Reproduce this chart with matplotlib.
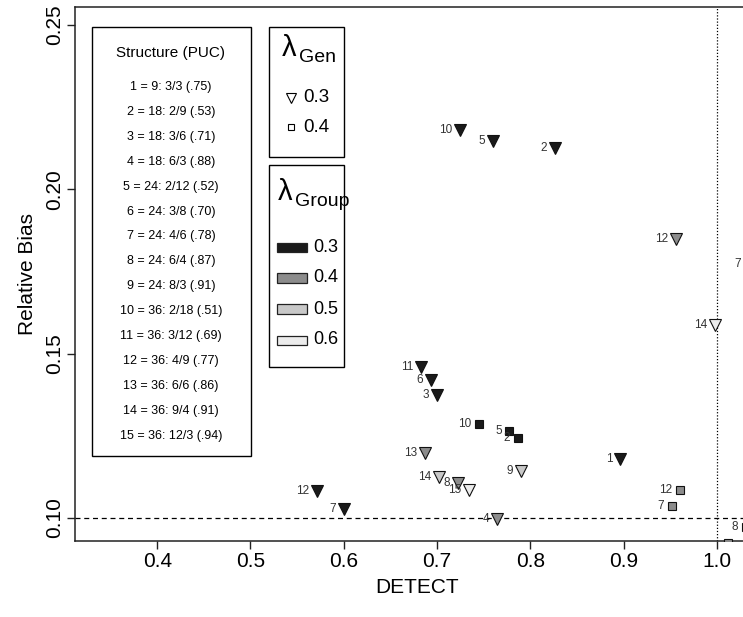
import matplotlib
matplotlib.use("Agg")
import matplotlib.pyplot as plt
from matplotlib.patches import Rectangle
from matplotlib.lines import Line2D

plt.rcParams['font.family'] = ['Liberation Sans', 'DejaVu Sans']

# lambda_Gen = 0.3 (triangles)
tri_x = [0.725, 0.760, 0.826, 0.956, 0.998, 1.034, 0.683, 0.693, 0.700,
         0.687, 0.702, 0.722, 0.734, 0.790, 0.571, 0.600, 0.764, 0.896]
tri_y = [0.2180, 0.2148, 0.2125, 0.1850, 0.1587, 0.1773, 0.1460, 0.1420, 0.1375,
         0.1197, 0.1126, 0.1106, 0.1085, 0.1143, 0.1083, 0.1028, 0.0996, 0.1179]
tri_lab = ['10', '5', '2', '12', '14', '7', '11', '6', '3',
           '13', '14', '8', '15', '9', '12', '7', '4', '1']
tri_grp = [0.3, 0.3, 0.3, 0.4, 0.6, 0.5, 0.3, 0.3, 0.3,
           0.4, 0.5, 0.4, 0.6, 0.5, 0.3, 0.3, 0.4, 0.3]

# lambda_Gen = 0.4 (squares)
sq_x = [0.745, 0.7774, 0.7867, 0.9603, 0.9514, 1.031, 1.0113]
sq_y = [0.1285, 0.1266, 0.1244, 0.1085, 0.1037, 0.0973, 0.0924]
sq_lab = ['10', '5', '2', '12', '7', '8', '']
sq_grp = [0.3, 0.3, 0.3, 0.4, 0.4, 0.5, 0.4]

structures = ['1 = 9: 3/3 (.75)', '2 = 18: 2/9 (.53)', '3 = 18: 3/6 (.71)',
              '4 = 18: 6/3 (.88)', '5 = 24: 2/12 (.52)', '6 = 24: 3/8 (.70)',
              '7 = 24: 4/6 (.78)', '8 = 24: 6/4 (.87)', '9 = 24: 8/3 (.91)',
              '10 = 36: 2/18 (.51)', '11 = 36: 3/12 (.69)', '12 = 36: 4/9 (.77)',
              '13 = 36: 6/6 (.86)', '14 = 36: 9/4 (.91)', '15 = 36: 12/3 (.94)']
gen_levels = ['0.3', '0.4']
group_levels = [0.3, 0.4, 0.5, 0.6]

fills = {0.3: '#1a1a1a', 0.4: '#8c8c8c', 0.5: '#c8c8c8', 0.6: '#ececec'}

W, H = 743, 617
fig = plt.figure(figsize=(W / 100, H / 100), dpi=100)


def fx(px):
    return px / W


def fy(py):
    return 1 - py / H


ax = fig.add_axes([fx(75), fy(541), (760 - 75) / W, (541 - 7) / H])
ax.set_xlim(0.3119, 1.0461)
ax.set_ylim(0.09302, 0.25548)

ax.axhline(0.10, color='black', lw=0.9, ls=(0, (4, 3)), zorder=1)
ax.axvline(1.0, color='black', lw=0.9, ls=(0, (1, 1.5)), zorder=1)

for x, y, lab, g in zip(tri_x, tri_y, tri_lab, tri_grp):
    ax.plot(x, y, marker='v', ms=9, mfc=fills[g], mec='#111111', mew=0.8,
            ls='none', zorder=3)
    ax.annotate(lab, (x, y), xytext=(-5.5, 0), textcoords='offset points',
                ha='right', va='center', fontsize=8.5, color='#333333', zorder=4)

for x, y, lab, g in zip(sq_x, sq_y, sq_lab, sq_grp):
    ax.plot(x, y, marker='s', ms=6, mfc=fills[g], mec='#111111', mew=0.8,
            ls='none', zorder=3)
    if lab:
        ax.annotate(lab, (x, y), xytext=(-5.5, 0), textcoords='offset points',
                    ha='right', va='center', fontsize=8.5, color='#333333', zorder=4)

ax.set_xticks([0.4, 0.5, 0.6, 0.7, 0.8, 0.9, 1.0])
ax.set_xticklabels(['0.4', '0.5', '0.6', '0.7', '0.8', '0.9', '1.0'])
ax.set_yticks([0.10, 0.15, 0.20, 0.25])
ax.set_yticklabels(['0.10', '0.15', '0.20', '0.25'], rotation=90, va='center')
ax.tick_params(direction='out', length=6, width=1, labelsize=15, pad=2,
               color='#222222')
for s in ax.spines.values():
    s.set_linewidth(1.1)
    s.set_color('#222222')

ax.set_xlabel('DETECT', fontsize=15, labelpad=5)
ax.set_ylabel('Relative Bias', fontsize=15, labelpad=6)

# Structure legend
fig.add_artist(Rectangle((fx(92), fy(456)), (251 - 92) / W, (456 - 27) / H,
                         transform=fig.transFigure, fill=False, lw=1, ec='black'))
fig.text(fx(171), fy(53), 'Structure (PUC)', ha='center', va='center', fontsize=11)
for i, s in enumerate(structures):
    fig.text(fx(171), fy(87 + i * 24.9), s, ha='center', va='center', fontsize=9)

# lambda Gen legend
fig.add_artist(Rectangle((fx(269), fy(157)), (344 - 269) / W, (157 - 27) / H,
                         transform=fig.transFigure, fill=False, lw=1, ec='black'))
fig.text(fx(282), fy(48), 'λ', ha='left', va='center', fontsize=21)
fig.text(fx(299), fy(57), 'Gen', ha='left', va='center', fontsize=14)
gen_markers = ['v', 's']
gen_sizes = [7, 4.5]
for i, (lev, m, ms) in enumerate(zip(gen_levels, gen_markers, gen_sizes)):
    yy = 98 + i * 29
    fig.add_artist(Line2D([fx(291)], [fy(yy)], marker=m, ms=ms, mfc='white',
                          mec='black', mew=0.8, transform=fig.transFigure))
    fig.text(fx(303), fy(yy), lev, ha='left', va='center', fontsize=13.5)

# lambda Group legend
fig.add_artist(Rectangle((fx(269), fy(367)), (344 - 269) / W, (367 - 165) / H,
                         transform=fig.transFigure, fill=False, lw=1, ec='black'))
fig.text(fx(278), fy(192), 'λ', ha='left', va='center', fontsize=21)
fig.text(fx(295), fy(201), 'Group', ha='left', va='center', fontsize=14)
for i, g in enumerate(group_levels):
    yy = 247 + i * 31
    fig.add_artist(Rectangle((fx(277), fy(yy + 4.5)), 30 / W, 9 / H,
                             transform=fig.transFigure, fc=fills[g], ec='#222222',
                             lw=0.9))
    fig.text(fx(313), fy(yy), f'{g:.1f}', ha='left', va='center', fontsize=13)

fig.savefig('out.png', dpi=100)
